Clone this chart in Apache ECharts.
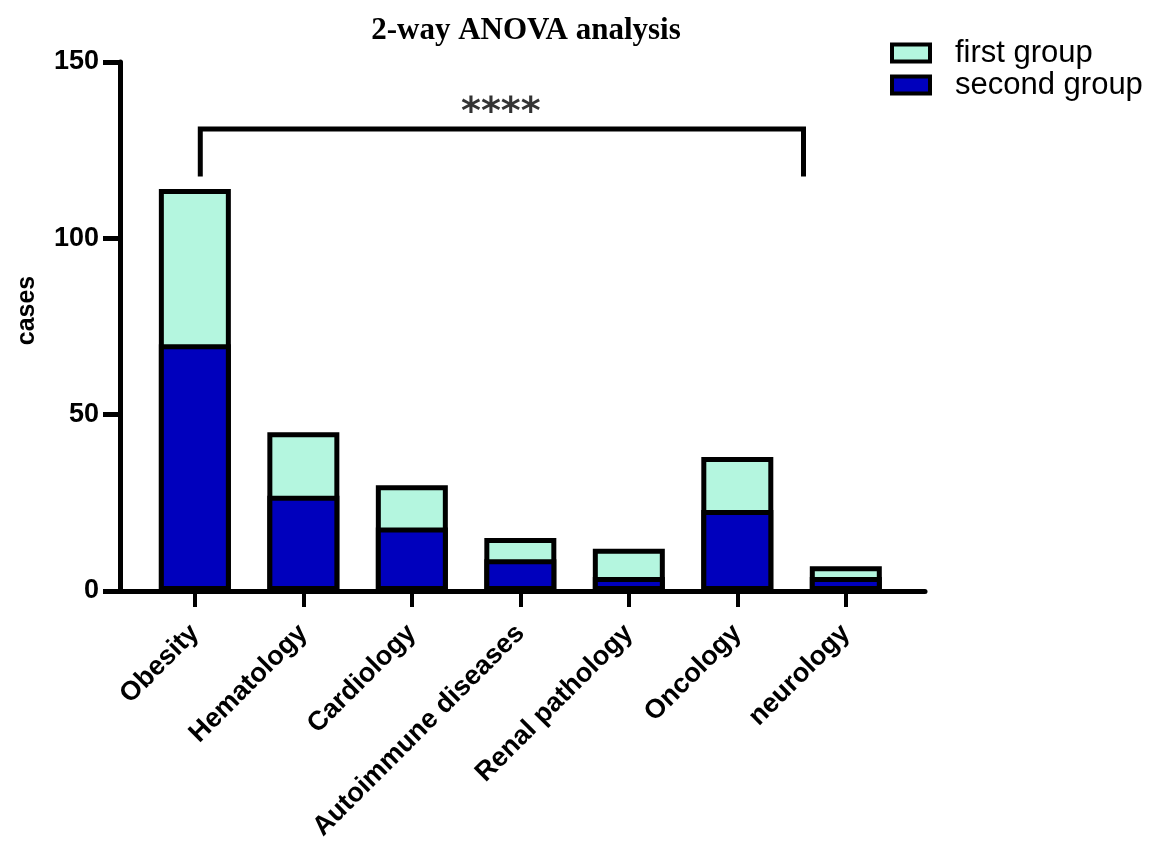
<!DOCTYPE html>
<html>
<head>
<meta charset="utf-8">
<script src="https://cdn.jsdelivr.net/npm/echarts@6/dist/echarts.min.js"></script>
<style>
    html, body { margin: 0; padding: 0; background: #fff; }
    #main { width: 1154px; height: 854px; }
</style>
</head>
<body>
<div id="main"></div>
<script>
// chart data
var categories = ['Obesity', 'Hematology', 'Cardiology', 'Autoimmune diseases', 'Renal pathology', 'Oncology', 'neurology'];
var secondGroup = [70, 27, 18, 9, 4, 23, 4];
var firstGroup = [44, 18, 12, 6, 8, 15, 3];
var yTicks = [0, 50, 100, 150];
// significance bracket (x in category index units, y in cases)
var bracketX = [0.05, 5.61];
var bracketY = [117.5, 131];
var starsPos = [2.82, 135.5];
var starsText = '****';

var fontSans = "'Liberation Sans', Arial, sans-serif";
var catIdx = categories.map(function (c, i) { return i; });

// second group sits at the bottom; first group is drawn as the stacked total behind it
var secondData = secondGroup.map(function (v, i) { return [i, v]; });
var firstData = firstGroup.map(function (v, i) { return [i, v + secondGroup[i]]; });

var bracketData = [
    [bracketX[0], bracketY[0]],
    [bracketX[0], bracketY[1]],
    [bracketX[1], bracketY[1]],
    [bracketX[1], bracketY[0]]
];

var myChart = echarts.init(document.getElementById('main'));
var option = {
    backgroundColor: '#ffffff',
    animation: false,
    title: {
        text: '2-way ANOVA analysis',
        left: 521,
        top: 10,
        textAlign: 'center',
        textStyle: {
            fontFamily: "'Liberation Serif', 'Times New Roman', serif",
            fontWeight: 'bold',
            fontSize: 31,
            color: '#000'
        }
    },
    legend: {
        data: ['first group', 'second group'],
        orient: 'vertical',
        left: 885,
        top: 32,
        itemWidth: 38,
        itemHeight: 17,
        itemGap: 0,
        icon: 'rect',
        itemStyle: { borderColor: '#000', borderWidth: 4 },
        textStyle: {
            fontFamily: fontSans,
            fontSize: 31,
            lineHeight: 32,
            color: '#000',
            padding: [0, 0, 0, 20]
        }
    },
    grid: {
        left: 120,
        right: 229,
        top: 62,
        bottom: 263
    },
    xAxis: {
        type: 'value',
        min: -0.69,
        max: 6.73,
        splitLine: { show: false },
        axisLine: { show: true, lineStyle: { color: '#000', width: 5 } },
        axisTick: {
            show: true,
            customValues: catIdx,
            length: 16,
            lineStyle: { color: '#000', width: 4 }
        },
        axisLabel: {
            customValues: catIdx,
            rotate: 45,
            margin: 38,
            fontFamily: fontSans,
            fontWeight: 'bold',
            fontSize: 27,
            color: '#000',
            formatter: function (v) {
                return categories[Math.round(v)];
            }
        }
    },
    yAxis: {
        type: 'value',
        min: yTicks[0],
        max: yTicks[yTicks.length - 1],
        interval: 50,
        name: 'cases',
        nameLocation: 'middle',
        nameGap: 80,
        nameTextStyle: {
            fontFamily: fontSans,
            fontWeight: 'bold',
            fontSize: 25,
            color: '#000',
            padding: [0, 0, 0, 32]
        },
        splitLine: { show: false },
        axisLine: { show: true, onZero: false, lineStyle: { color: '#000', width: 5 } },
        axisTick: { show: true, length: 17, lineStyle: { color: '#000', width: 5 } },
        axisLabel: {
            margin: 21,
            fontFamily: fontSans,
            fontWeight: 'bold',
            fontSize: 27,
            color: '#000'
        }
    },
    series: [
        {
            name: 'first group',
            type: 'bar',
            barWidth: 72,
            barGap: '-100%',
            data: firstData,
            itemStyle: { color: '#b4f6df', borderColor: '#000', borderWidth: 5 }
        },
        {
            name: 'second group',
            type: 'bar',
            barWidth: 72,
            barGap: '-100%',
            data: secondData,
            itemStyle: { color: '#0000bd', borderColor: '#000', borderWidth: 5 }
        },
        {
            name: 'bracket',
            type: 'line',
            data: bracketData,
            symbol: 'none',
            lineStyle: { color: '#000', width: 5, join: 'miter', cap: 'butt' },
            silent: true
        },
        {
            name: 'stars',
            type: 'scatter',
            data: [starsPos],
            symbolSize: 0,
            label: {
                show: true,
                position: 'inside',
                formatter: starsText,
                fontFamily: "'DejaVu Sans', sans-serif",
                fontWeight: 'bold',
                fontSize: 38,
                color: '#000'
            },
            silent: true
        }
    ]
};
myChart.setOption(option);
</script>
</body>
</html>
